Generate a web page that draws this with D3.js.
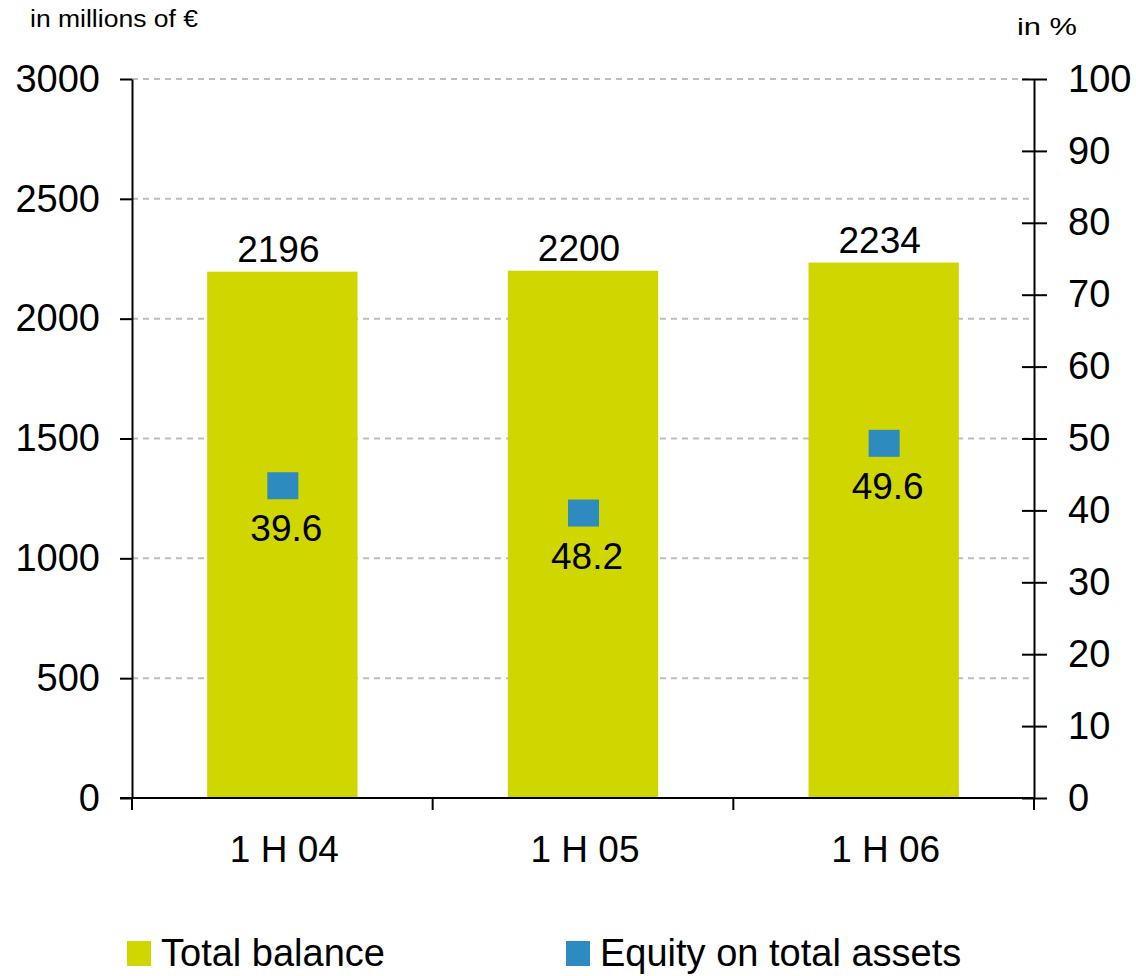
<!DOCTYPE html>
<html>
<head>
<meta charset="utf-8">
<script src="https://cdn.jsdelivr.net/npm/d3@7"></script>
<style>
  body { margin: 0; background: #fff; }
  svg { display: block; font-family: "Liberation Sans", Arial, sans-serif; }
</style>
</head>
<body>
<svg width="1136" height="976"></svg>
<script>
// chart data
var categories = ["1 H 04", "1 H 05", "1 H 06"];
var totalBalance = [2196, 2200, 2234];
var equityShare = [43.5, 39.7, 49.4];          // marker positions as drawn
var equityLabels = ["39.6", "48.2", "49.6"];   // printed labels
var leftTicks = [0, 500, 1000, 1500, 2000, 2500, 3000];
var rightTicks = [0, 10, 20, 30, 40, 50, 60, 70, 80, 90, 100];

var svg = d3.select("svg");
var plotLeft = 132, plotRight = 1034, plotTop = 79, plotBottom = 798;

var x = d3.scaleBand().domain(categories).range([plotLeft, plotRight])
    .paddingInner(0.5).paddingOuter(0.25);
var yL = d3.scaleLinear().domain([0, 3000]).range([plotBottom, plotTop]);
var yR = d3.scaleLinear().domain([0, 100]).range([plotBottom, plotTop]);

// grid
svg.append("g")
  .selectAll("line")
  .data(leftTicks.slice(1))
  .enter().append("line")
    .attr("x1", plotLeft).attr("x2", plotRight)
    .attr("y1", function(d) { return yL(d); })
    .attr("y2", function(d) { return yL(d); })
    .attr("stroke", "#bdbdbd")
    .attr("stroke-width", 2)
    .attr("stroke-dasharray", "6,5");

// bars
svg.append("g")
  .selectAll("rect")
  .data(totalBalance)
  .enter().append("rect")
    .attr("x", function(d, i) { return x(categories[i]); })
    .attr("y", function(d) { return yL(d); })
    .attr("width", x.bandwidth())
    .attr("height", function(d) { return plotBottom - yL(d); })
    .attr("fill", "#cfd600");

svg.append("g")
  .selectAll("text")
  .data(totalBalance)
  .enter().append("text")
    .attr("x", function(d, i) { return x(categories[i]) + x.bandwidth() / 2 - 4; })
    .attr("y", function(d) { return yL(d) - 10; })
    .attr("text-anchor", "middle")
    .attr("font-size", 37)
    .text(function(d) { return d; });

// markers
svg.append("g")
  .selectAll("rect")
  .data(equityShare)
  .enter().append("rect")
    .attr("x", function(d, i) { return x(categories[i]) + x.bandwidth() / 2 - 15; })
    .attr("y", function(d) { return yR(d) - 13; })
    .attr("width", 31)
    .attr("height", 27)
    .attr("fill", "#2e8bc0");

svg.append("g")
  .selectAll("text")
  .data(equityShare)
  .enter().append("text")
    .attr("x", function(d, i) { return x(categories[i]) + x.bandwidth() / 2 + 4; })
    .attr("y", function(d) { return yR(d) + 56; })
    .attr("text-anchor", "middle")
    .attr("font-size", 37)
    .text(function(d, i) { return equityLabels[i]; });

// left axis
var gL = svg.append("g")
    .attr("transform", "translate(" + plotLeft + ",0)")
    .call(d3.axisLeft(yL).tickValues(leftTicks).tickSize(12).tickSizeOuter(0).tickPadding(20)
      .tickFormat(d3.format("d")));

// right axis
var gR = svg.append("g")
    .attr("transform", "translate(" + plotRight + ",0)")
    .call(d3.axisRight(yR).tickValues(rightTicks).tickSize(13).tickSizeOuter(0).tickPadding(21)
      .tickFormat(d3.format("d")));
gR.selectAll(".tick line").attr("x1", -12);

// x axis line + boundary ticks
var boundaries = categories.map(function(c) { return x(c) - x.step() * x.paddingInner() / 2; });
boundaries.push(plotRight);
svg.append("line")
    .attr("x1", plotLeft - 12).attr("x2", plotRight)
    .attr("y1", plotBottom).attr("y2", plotBottom)
    .attr("stroke", "#000").attr("stroke-width", 2);
svg.append("g")
  .selectAll("line")
  .data(boundaries)
  .enter().append("line")
    .attr("x1", function(d) { return d; })
    .attr("x2", function(d) { return d; })
    .attr("y1", plotBottom).attr("y2", plotBottom + 12)
    .attr("stroke", "#000").attr("stroke-width", 2);

svg.append("g")
  .selectAll("text")
  .data(categories)
  .enter().append("text")
    .attr("x", function(d) { return x(d) + x.bandwidth() / 2 + 2; })
    .attr("y", plotBottom + 64)
    .attr("text-anchor", "middle")
    .attr("font-size", 37)
    .text(function(d) { return d; });

[gL, gR].forEach(function(g) {
  g.select(".domain").attr("stroke", "#000").attr("stroke-width", 2);
  g.selectAll(".tick line").attr("stroke", "#000").attr("stroke-width", 2);
  g.selectAll(".tick text").attr("font-size", 38).attr("fill", "#000")
    .attr("font-family", "Liberation Sans, Arial, sans-serif");
});

// unit labels
svg.append("text")
    .attr("x", 30).attr("y", 27)
    .attr("font-size", 23)
    .attr("textLength", 168).attr("lengthAdjust", "spacingAndGlyphs")
    .text("in millions of €");
svg.append("text")
    .attr("x", 1017).attr("y", 35)
    .attr("font-size", 24)
    .attr("textLength", 60).attr("lengthAdjust", "spacingAndGlyphs")
    .text("in %");

// legend
var legend = [
  {label: "Total balance", color: "#cfd600", x: 127},
  {label: "Equity on total assets", color: "#2e8bc0", x: 566}
];
var lg = svg.append("g").selectAll("g").data(legend).enter().append("g");
lg.append("rect")
    .attr("x", function(d) { return d.x; })
    .attr("y", 941).attr("width", 24).attr("height", 25)
    .attr("fill", function(d) { return d.color; });
lg.append("text")
    .attr("x", function(d) { return d.x + 34; })
    .attr("y", 966)
    .attr("font-size", 38)
    .text(function(d) { return d.label; });
</script>
</body>
</html>
